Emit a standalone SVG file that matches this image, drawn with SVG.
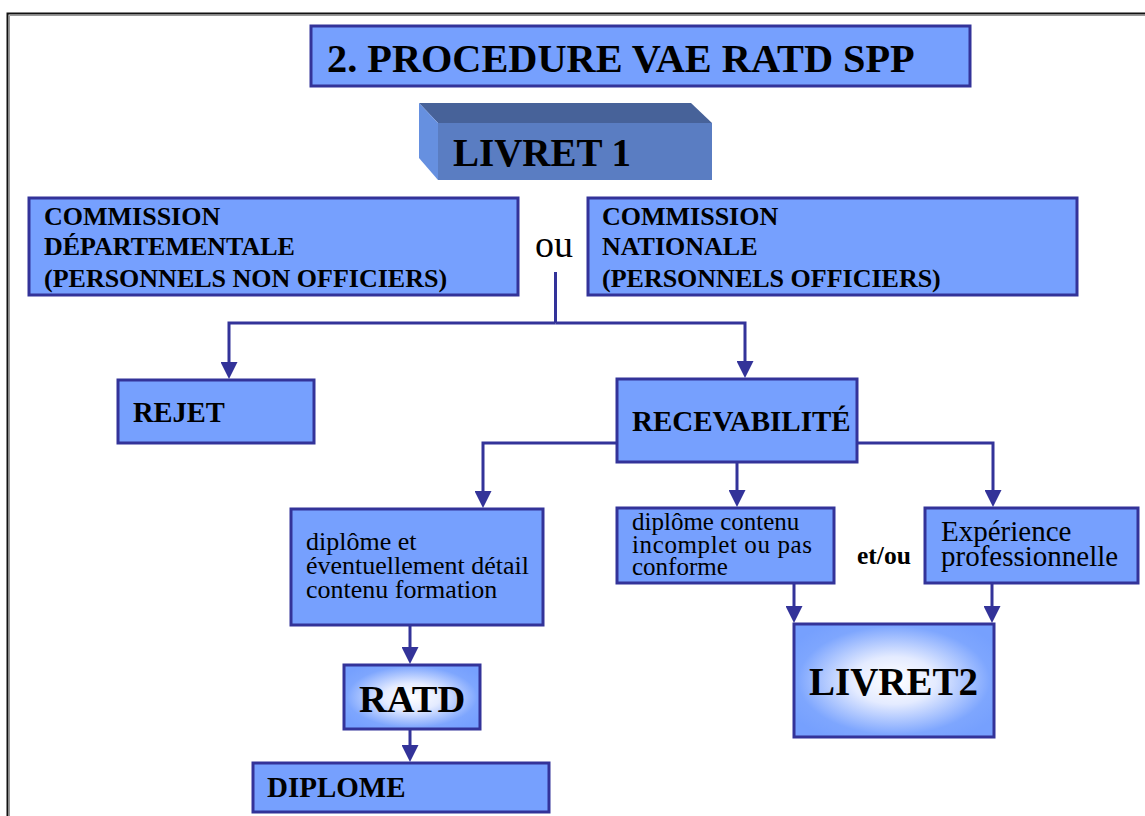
<svg xmlns="http://www.w3.org/2000/svg" width="1145" height="816" viewBox="0 0 1145 816">
<style>
.box{fill:#76a0fe;stroke:#333399;stroke-width:3}
.grad{fill:url(#glow);stroke:#333399;stroke-width:3}
.b{font-family:"Liberation Serif","Times New Roman",serif;font-weight:bold;fill:#000}
.n{font-family:"Liberation Serif","Times New Roman",serif;fill:#000}
.con{fill:none;stroke:#333399;stroke-width:3;marker-end:url(#arr)}
.line{fill:none;stroke:#333399;stroke-width:3}
</style>
<defs>
<marker id="arr" markerUnits="userSpaceOnUse" markerWidth="17" markerHeight="17" viewBox="0 0 17 17" refX="0" refY="8.5" orient="auto">
<path d="M0,0 L17,8.5 L0,17 Z" fill="#333399"/>
</marker>
<radialGradient id="glow" cx="0.5" cy="0.5" r="0.6">
<stop offset="0" stop-color="#ffffff"/>
<stop offset="0.35" stop-color="#e4ebff"/>
<stop offset="0.8" stop-color="#7ea6fe"/>
<stop offset="1" stop-color="#76a0fe"/>
</radialGradient>
</defs>
<rect width="1145" height="816" fill="#fff"/>
<path d="M7.5,816 V13.5 H1145" fill="none" stroke="#111" stroke-width="2"/>
<path d="M9.5,816 V15.5 H1145" fill="none" stroke="#999" stroke-width="1"/>

<g id="title">
<rect class="box" x="311" y="26" width="659" height="60"/>
<text class="b" x="327" y="72" font-size="40.3">2. PROCEDURE VAE RATD SPP</text>
</g>

<g id="livret1">
<polygon points="419,103 691,103 712,123 438,123" fill="#476299"/>
<polygon points="419,103 438,123 438,180 419,158" fill="#6690e0"/>
<rect x="438" y="123" width="274" height="57" fill="#5a7dc2"/>
<text class="b" x="453" y="166" font-size="39">LIVRET 1</text>
</g>

<g id="commission-dep">
<rect class="box" x="29" y="198" width="489" height="97"/>
<text class="b" x="44" y="225" font-size="26">COMMISSION</text>
<text class="b" x="44" y="255" font-size="26">DÉPARTEMENTALE</text>
<text class="b" x="44" y="287" font-size="26">(PERSONNELS NON OFFICIERS)</text>
</g>

<g id="ou">
<text class="n" x="535" y="257" font-size="38">ou</text>
</g>

<g id="commission-nat">
<rect class="box" x="588" y="198" width="489" height="97"/>
<text class="b" x="602" y="225" font-size="26">COMMISSION</text>
<text class="b" x="602" y="255" font-size="26">NATIONALE</text>
<text class="b" x="602" y="287" font-size="26">(PERSONNELS OFFICIERS)</text>
</g>

<g id="rejet">
<rect class="box" x="118" y="380" width="196" height="63"/>
<text class="b" x="133" y="422" font-size="28.5">REJET</text>
</g>

<g id="recevabilite">
<rect class="box" x="617" y="379" width="240" height="83"/>
<text class="b" x="632" y="431" font-size="29">RECEVABILITÉ</text>
</g>

<g id="diplome-et">
<rect class="box" x="291" y="509" width="252" height="116"/>
<text class="n" x="306" y="550" font-size="26">diplôme et</text>
<text class="n" x="306" y="574" font-size="26">éventuellement détail</text>
<text class="n" x="306" y="598" font-size="26">contenu formation</text>
</g>

<g id="diplome-contenu">
<rect class="box" x="617" y="508" width="217" height="75"/>
<text class="n" x="632" y="530" font-size="25">diplôme contenu</text>
<text class="n" x="632" y="553" font-size="25" textLength="180" lengthAdjust="spacing">incomplet ou pas</text>
<text class="n" x="632" y="575" font-size="25">conforme</text>
</g>

<g id="etou">
<text class="b" x="857" y="564" font-size="25.5">et/ou</text>
</g>

<g id="experience">
<rect class="box" x="925" y="508" width="213" height="75"/>
<text class="n" x="941" y="541" font-size="29">Expérience</text>
<text class="n" x="941" y="566" font-size="29">professionnelle</text>
</g>

<g id="livret2">
<rect class="grad" x="794" y="624" width="200" height="113"/>
<text class="b" x="809" y="695" font-size="39">LIVRET2</text>
</g>

<g id="ratd">
<rect class="grad" x="344" y="665" width="136" height="64"/>
<text class="b" x="359" y="712" font-size="38.5">RATD</text>
</g>

<g id="diplome">
<rect class="box" x="253" y="763" width="296" height="49"/>
<text class="b" x="267" y="797" font-size="29">DIPLOME</text>
</g>

<g id="connectors">
<path class="line" d="M555.5,272 V323"/>
<path class="con" d="M555.5,323 H229 V362"/>
<path class="con" d="M555.5,323 H745 V361"/>
<path class="con" d="M617,443 H483 V491"/>
<path class="con" d="M857,443 H993 V490"/>
<path class="con" d="M737,462 V490"/>
<path class="con" d="M410,625 V647"/>
<path class="con" d="M410,729 V745"/>
<path class="con" d="M794,583 V606"/>
<path class="con" d="M992,583 V606"/>
</g>
</svg>
